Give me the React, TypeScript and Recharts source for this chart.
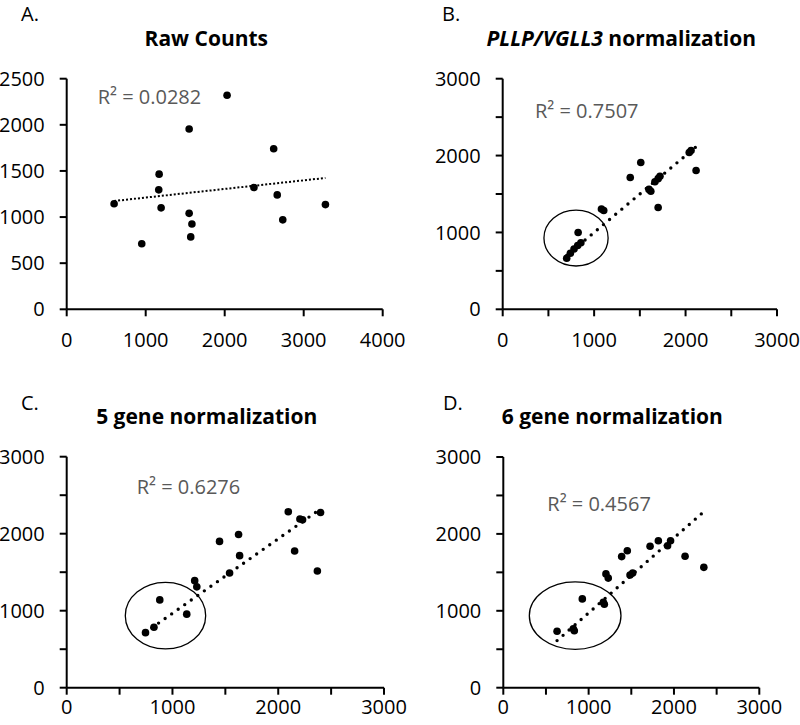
import { ScatterChart, Scatter, XAxis, YAxis, ReferenceLine, ReferenceArea } from 'recharts'

const FONT = '"Open Sans", "Liberation Sans", sans-serif'

// A. Raw counts
const rawX = [600, 950, 1170, 1165, 1195, 1550, 1550, 1585, 1570, 2030, 2370, 2620, 2665, 2735, 3275]
const rawY = [1145, 710, 1465, 1295, 1100, 1955, 1040, 925, 785, 2320, 1320, 1740, 1240, 970, 1135]

// B. PLLP/VGLL3 normalization
const pllpX = [700, 740, 780, 820, 855, 825, 1080, 1105, 1395, 1510, 1600, 1620, 1665, 1700, 1720, 1700, 2040, 2060, 2115]
const pllpY = [665, 730, 785, 830, 865, 1000, 1305, 1285, 1715, 1910, 1560, 1535, 1660, 1700, 1730, 1325, 2040, 2065, 1805]

// C. 5 gene normalization
const gene5X = [745, 825, 880, 1135, 1210, 1230, 1445, 1540, 1625, 1635, 2095, 2155, 2205, 2230, 2370, 2400]
const gene5Y = [715, 785, 1140, 955, 1390, 1310, 1900, 1490, 1990, 1715, 2285, 1775, 2190, 2180, 1515, 2275]

// D. 6 gene normalization
const gene6X = [630, 820, 832, 926, 1172, 1184, 1203, 1230, 1387, 1453, 1485, 1516, 1720, 1817, 1925, 1960, 2130, 2350]
const gene6Y = [735, 765, 740, 1155, 1110, 1085, 1480, 1425, 1705, 1780, 1465, 1490, 1840, 1910, 1845, 1910, 1710, 1565]

// linear trendlines (slope, intercept) and R² as shown
const trendSlopes = [0.0934, 1.0, 0.968, 0.975]
const trendIntercepts = [1118, 0, -2, -2]
const r2Labels = ['R² = 0.0282', 'R² = 0.7507', 'R² = 0.6276', 'R² = 0.4567']

// circled low-expression groups [x1, x2, y1, y2]
const circleB = [451, 1153, 563, 1291]
const circleC = [554, 1314, 503, 1369]
const circleD = [305, 1379, 499, 1375]

const ticksA_X = [0, 1000, 2000, 3000, 4000]
const ticksA_Y = [0, 500, 1000, 1500, 2000, 2500]
const ticks3000 = [0, 500, 1000, 1500, 2000, 2500, 3000]

const toPoints = (xs: number[], ys: number[]) => xs.map((x, i) => ({ x, y: ys[i] }))

type PanelProps = {
  xs: number[]
  ys: number[]
  xTicks: number[]
  yTicks: number[]
  labelStep: number
  slope: number
  intercept: number
  fineDots?: boolean
  circle?: number[]
  left: number
  top: number
  width: number
  height: number
  margin: { top: number; right: number; bottom: number; left: number }
  xTickMargin: number
}

const tickStyle = { fill: '#000', fontSize: 20, fontFamily: FONT }

function Panel(p: PanelProps) {
  const data = toPoints(p.xs, p.ys)
  const x1 = Math.min(...p.xs)
  const x2 = Math.max(...p.xs)
  const fmt = (v: number) => (v % p.labelStep === 0 ? String(v) : '')
  return (
    <div style={{ position: 'absolute', left: p.left, top: p.top }}>
      <ScatterChart width={p.width} height={p.height} margin={p.margin}>
        <XAxis
          type="number"
          dataKey="x"
          domain={[p.xTicks[0], p.xTicks[p.xTicks.length - 1]]}
          ticks={p.xTicks}
          tickFormatter={fmt}
          interval={0}
          height={30}
          tickSize={7}
          tickMargin={p.xTickMargin}
          tick={tickStyle}
          axisLine={{ stroke: '#000', strokeWidth: 2 }}
          tickLine={{ stroke: '#000', strokeWidth: 2 }}
        />
        <YAxis
          type="number"
          dataKey="y"
          domain={[p.yTicks[0], p.yTicks[p.yTicks.length - 1]]}
          ticks={p.yTicks}
          tickFormatter={fmt}
          interval={0}
          width={60}
          tickSize={7}
          tickMargin={15}
          tick={tickStyle}
          axisLine={{ stroke: '#000', strokeWidth: 2 }}
          tickLine={{ stroke: '#000', strokeWidth: 2 }}
        />
        {p.circle && (
          <ReferenceArea
            x1={p.circle[0]}
            x2={p.circle[1]}
            y1={p.circle[2]}
            y2={p.circle[3]}
            shape={(s: any) => (
              <ellipse
                cx={s.x + s.width / 2}
                cy={s.y + s.height / 2}
                rx={Math.abs(s.width) / 2}
                ry={Math.abs(s.height) / 2}
                fill="none"
                stroke="#000"
                strokeWidth={1.3}
              />
            )}
          />
        )}
        <Scatter
          data={data}
          isAnimationActive={false}
          shape={(s: any) => <circle cx={s.cx} cy={s.cy} r={3.8} fill="#000" />}
        />
        <ReferenceLine
          segment={[
            { x: x1, y: p.slope * x1 + p.intercept },
            { x: x2, y: p.slope * x2 + p.intercept },
          ]}
          stroke="#000"
          strokeWidth={p.fineDots ? 2 : 3.4}
          strokeDasharray={p.fineDots ? '2 2' : '0 8'}
          strokeLinecap={p.fineDots ? 'butt' : 'round'}
        />
      </ScatterChart>
    </div>
  )
}

export default function App() {
  return (
    <div style={{ position: 'absolute', left: 0, top: 0, width: 800, height: 725, background: '#fff', fontFamily: FONT }}>
      <Panel
        xs={rawX}
        ys={rawY}
        xTicks={ticksA_X}
        yTicks={ticksA_Y}
        labelStep={500}
        slope={trendSlopes[0]}
        intercept={trendIntercepts[0]}
        fineDots
        left={0}
        top={0}
        width={420}
        height={360}
        margin={{ top: 78.7, right: 37.3, bottom: 20.7, left: 6.7 }}
        xTickMargin={16}
      />
      <Panel
        xs={pllpX}
        ys={pllpY}
        xTicks={ticks3000}
        yTicks={ticks3000}
        labelStep={1000}
        slope={trendSlopes[1]}
        intercept={trendIntercepts[1]}
        circle={circleB}
        left={400}
        top={0}
        width={400}
        height={360}
        margin={{ top: 78.7, right: 23, bottom: 20.7, left: 42.7 }}
        xTickMargin={16}
      />
      <Panel
        xs={gene5X}
        ys={gene5Y}
        xTicks={ticks3000}
        yTicks={ticks3000}
        labelStep={1000}
        slope={trendSlopes[2]}
        intercept={trendIntercepts[2]}
        circle={circleC}
        left={0}
        top={360}
        width={420}
        height={365}
        margin={{ top: 96.7, right: 36, bottom: 7.3, left: 6.7 }}
        xTickMargin={5}
      />
      <Panel
        xs={gene6X}
        ys={gene6Y}
        xTicks={ticks3000}
        yTicks={ticks3000}
        labelStep={1000}
        slope={trendSlopes[3]}
        intercept={trendIntercepts[3]}
        circle={circleD}
        left={400}
        top={360}
        width={400}
        height={365}
        margin={{ top: 97, right: 40.7, bottom: 7.3, left: 43.3 }}
        xTickMargin={5}
      />
      <svg width={800} height={725} style={{ position: 'absolute', left: 0, top: 0, pointerEvents: 'none' }}>
        <g fontFamily={FONT} fontSize={20} fill="#000">
          <text x={21} y={21}>A.</text>
          <text x={442} y={21}>B.</text>
          <text x={21} y={410}>C.</text>
          <text x={443} y={410}>D.</text>
        </g>
        <g fontFamily={FONT} fontSize={21} fontWeight="bold" fill="#000" textAnchor="middle">
          <text x={206.3} y={45.5}>Raw Counts</text>
          <text x={621.3} y={45.5}>
            <tspan fontStyle="italic">PLLP/VGLL3</tspan> normalization
          </text>
          <text x={206.7} y={424}>5 gene normalization</text>
          <text x={612.3} y={424}>6 gene normalization</text>
        </g>
        <g fontFamily={FONT} fontSize={20} fill="#595959">
          <text x={97.7} y={104}>{r2Labels[0]}</text>
          <text x={535} y={118.3}>{r2Labels[1]}</text>
          <text x={136.7} y={494}>{r2Labels[2]}</text>
          <text x={547.3} y={510.7}>{r2Labels[3]}</text>
        </g>
      </svg>
    </div>
  )
}
